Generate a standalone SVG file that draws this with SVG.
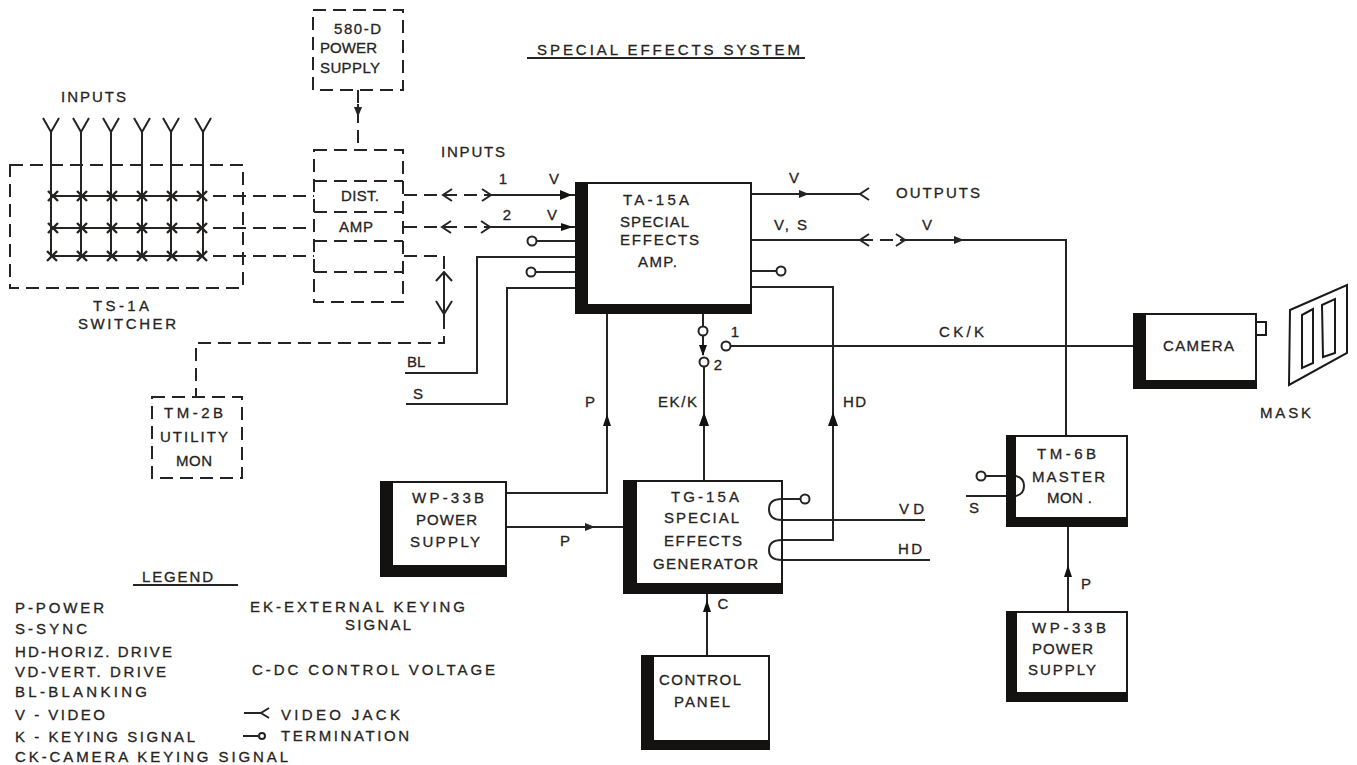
<svg xmlns="http://www.w3.org/2000/svg" width="1357" height="765" viewBox="0 0 1357 765">
<style>
text{font-family:"Liberation Sans",Arial,sans-serif;font-size:15px;fill:#262422;stroke:#262422;stroke-width:.3}
.l{fill:none;stroke:#262422;stroke-width:2}
.d{fill:none;stroke:#262422;stroke-width:2;stroke-dasharray:13 7}
.b{fill:#fff;stroke:#1c1a18;stroke-width:2}
.k{fill:#141210;stroke:none}
.t{fill:#fff;stroke:#262422;stroke-width:2}
.c{text-anchor:middle}
</style>
<defs>
<marker id="a" markerWidth="10" markerHeight="8" refX="9" refY="4" orient="auto" markerUnits="userSpaceOnUse"><path d="M0 0L10 4L0 8Z" fill="#262422"/></marker>
<path id="j" d="M9 -6L0 0L9 6" fill="none" stroke="#262422" stroke-width="2"/>
<path id="x" d="M-5 -5L5 5M-5 5L5 -5" fill="none" stroke="#262422" stroke-width="2.4"/>
</defs>
<rect width="1357" height="765" fill="#fff"/>

<g id="connectors">
<path class="l" d="M51 132V257M81 132V257M111 132V257M142 132V257M171 132V257M203 132V257M51 196H203M51 228H203M51 256H203"/>
<path class="l" d="M43 118L51 132L59 118M73 118L81 132L89 118M103 118L111 132L119 118M134 118L142 132L150 118M163 118L171 132L179 118M195 118L203 132L211 118"/>
<g>
<use href="#x" x="53" y="196"/><use href="#x" x="82" y="196"/><use href="#x" x="112" y="196"/><use href="#x" x="142" y="196"/><use href="#x" x="172" y="196"/><use href="#x" x="202" y="196"/>
<use href="#x" x="53" y="228"/><use href="#x" x="82" y="228"/><use href="#x" x="112" y="228"/><use href="#x" x="142" y="228"/><use href="#x" x="172" y="228"/><use href="#x" x="202" y="228"/>
<use href="#x" x="52" y="256"/><use href="#x" x="82" y="256"/><use href="#x" x="112" y="256"/><use href="#x" x="142" y="256"/><use href="#x" x="172" y="256"/><use href="#x" x="202" y="256"/>
</g>
<path class="d" d="M213 196H314M213 228H314M213 256H314"/>
<path class="d" d="M358 90V150" stroke-dasharray="20 6"/>
<path class="l" d="M358 104V116" marker-end="url(#a)"/>
<path class="d" d="M404 195H492M404 227H490" stroke-dasharray="12 8"/>
<use href="#j" x="443" y="195"/><use href="#j" transform="translate(491 195) rotate(180)"/>
<use href="#j" x="442" y="227"/><use href="#j" transform="translate(490 227) rotate(180)"/>
<path class="l" d="M491 195H576"/><path class="k" d="M560 190L572 195L560 200Z"/>
<path class="l" d="M490 227H576"/><path class="k" d="M561 223L573 227L561 231Z"/>
<path class="d" d="M404 256H444V343H196V397" stroke-dasharray="15 7"/>
<path class="l" d="M436 281L444 272L452 281M436 301L444 314L452 301M444 272V326"/>
<path class="l" d="M537 241H576M536 272H576M405 373H477V257H576M406 404H507V288H576"/>
<circle class="t" cx="532" cy="241" r="4.5"/><circle class="t" cx="531" cy="272" r="4.5"/>
<path class="l" d="M751 194H860M800 194H808" marker-end="url(#a)"/>
<use href="#j" x="860" y="194"/>
<path class="l" d="M751 240H860"/>
<use href="#j" x="860" y="240"/>
<path class="d" d="M860 240H905" stroke-dasharray="11 7"/>
<use href="#j" transform="translate(905 240) rotate(180)"/>
<path class="l" d="M905 240H1066V435"/><path class="l" d="M950 240H963" marker-end="url(#a)"/>
<path class="l" d="M751 271H776"/><circle class="t" cx="781" cy="271" r="4.5"/>
<path class="l" d="M751 287H833V540H782"/><path class="k" d="M828 426L833 412L838 426Z"/>
<path class="l" d="M607 314V493H506"/><path class="k" d="M603 426L607 414L611 426Z"/>
<path class="l" d="M703 314V327M703 336V355"/><path class="k" d="M699 345L703 356L707 345Z"/>
<circle class="t" cx="703" cy="331" r="4.5"/><circle class="t" cx="704" cy="362" r="4.5"/>
<circle class="t" cx="726" cy="346" r="4.5"/>
<path class="l" d="M704 367V480"/><path class="k" d="M699 426L704 412L709 426Z"/>
<path class="l" d="M731 346H1133"/>
<path class="l" d="M1066 346V435"/>
<path class="l" d="M506 527H623"/><path class="l" d="M582 527H594" marker-end="url(#a)"/>
<path class="l" d="M707 655V594"/><path class="k" d="M703 612L707 600L711 612Z"/>
<path class="l" d="M986 476H1007M966 496H1007"/><circle class="t" cx="981" cy="476" r="4.5"/>
<path class="l" d="M1068 611V527"/><path class="k" d="M1064 577L1068 565L1072 577Z"/>
<path class="l" d="M782 520H925M782 560H930M782 499H800"/><circle class="t" cx="805" cy="499" r="4.5"/>
</g>

<g id="ps-580d"><rect class="d" x="313" y="10" width="90" height="80"/>
<text x="334" y="34" textLength="47">580-D</text><text x="320" y="53" textLength="57">POWER</text><text x="320" y="73" textLength="60">SUPPLY</text></g>

<g id="dist-amp"><path class="d" d="M314 150H403V302H314ZM314 181H403M314 212H403M314 241H403M314 272H403"/>
<text x="341" y="201" textLength="38">DIST.</text><text x="339" y="232" textLength="34">AMP</text></g>

<g id="ts-1a"><rect class="d" x="10" y="165" width="233" height="123"/>
<text x="61" y="102" textLength="65">INPUTS</text>
<text x="93" y="311" textLength="56">TS-1A</text><text x="78" y="329" textLength="98">SWITCHER</text></g>

<g id="tm-2b"><rect class="d" x="152" y="397" width="90" height="81"/>
<text x="164" y="418" textLength="59">TM-2B</text><text x="160" y="442" textLength="68">UTILITY</text><text x="176" y="466" textLength="36">MON</text></g>

<g id="ta-15a"><rect class="b" x="576" y="183" width="175" height="130"/><rect class="k" x="575" y="182" width="13" height="132"/><rect class="k" x="575" y="304" width="177" height="10"/>
<text x="623" y="205" textLength="66">TA-15A</text><text x="620" y="227" textLength="69">SPECIAL</text><text x="620" y="245" textLength="79">EFFECTS</text><text x="638" y="267" textLength="39">AMP.</text></g>

<g id="tg-15a"><rect class="b" x="624" y="481" width="158" height="112"/><rect class="k" x="623" y="480" width="14" height="114"/><rect class="k" x="623" y="583" width="160" height="11"/>
<path class="l" d="M782 499Q769 499 769 509Q769 520 782 520M782 540Q769 540 769 550Q769 560 782 560"/>
<text x="671" y="502" textLength="68">TG-15A</text><text x="664" y="523" textLength="75">SPECIAL</text><text x="664" y="546" textLength="78">EFFECTS</text><text x="653" y="569" textLength="105">GENERATOR</text></g>

<g id="wp-33b-left"><rect class="b" x="381" y="482" width="125" height="94"/><rect class="k" x="380" y="481" width="13" height="96"/><rect class="k" x="380" y="565" width="127" height="12"/>
<text x="412" y="503" textLength="72">WP-33B</text><text x="416" y="525" textLength="61">POWER</text><text x="410" y="547" textLength="70">SUPPLY</text></g>

<g id="control-panel"><rect class="b" x="642" y="656" width="127" height="93"/><rect class="k" x="641" y="655" width="13" height="95"/><rect class="k" x="641" y="740" width="129" height="10"/>
<text x="659" y="685" textLength="82">CONTROL</text><text x="674" y="707" textLength="56">PANEL</text></g>

<g id="camera"><rect class="b" x="1134" y="314" width="122" height="74"/><rect class="k" x="1133" y="313" width="13" height="76"/><rect class="k" x="1133" y="380" width="124" height="9"/>
<rect class="b" x="1256" y="322" width="10" height="13"/>
<text x="1163" y="351" textLength="71">CAMERA</text></g>

<g id="mask"><path class="b" d="M1290 310L1347 285V353L1289 385Z"/><path class="b" d="M1302 315L1313 309V363L1302 368ZM1322 305L1335 299V353L1323 357Z" stroke-width="2.5"/>
<text x="1260" y="418" textLength="51">MASK</text></g>

<g id="tm-6b"><rect class="b" x="1007" y="436" width="120" height="90"/><rect class="k" x="1006" y="435" width="10" height="92"/><rect class="k" x="1006" y="517" width="121" height="10"/>
<path class="l" d="M1016 476Q1024 478 1024 486Q1024 494 1016 496"/>
<text x="1037" y="459" textLength="59">TM-6B</text><text x="1032" y="482" textLength="73">MASTER</text><text x="1047" y="503" textLength="45">MON .</text></g>

<g id="wp-33b-right"><rect class="b" x="1007" y="612" width="120" height="89"/><rect class="k" x="1006" y="611" width="11" height="91"/><rect class="k" x="1006" y="692" width="121" height="10"/>
<text x="1032" y="633" textLength="74">WP-33B</text><text x="1032" y="654" textLength="61">POWER</text><text x="1028" y="675" textLength="68">SUPPLY</text></g>

<g id="labels">
<text x="537" y="55" textLength="263">SPECIAL EFFECTS SYSTEM</text>
<path class="l" d="M527 58H805"/>
<text x="441" y="157" textLength="64">INPUTS</text>
<text class="c" x="503" y="184">1</text><text class="c" x="554" y="184">V</text>
<text class="c" x="507" y="220">2</text><text class="c" x="552" y="220">V</text>
<text class="c" x="794" y="183">V</text><text x="774" y="230" textLength="33">V, S</text>
<text x="896" y="198" textLength="84">OUTPUTS</text><text class="c" x="927" y="230">V</text>
<text x="407" y="367">BL</text><text x="413" y="399">S</text>
<text class="c" x="590" y="407">P</text><text x="658" y="407" textLength="39">EK/K</text><text x="843" y="407" textLength="23">HD</text>
<text class="c" x="735" y="337">1</text><text class="c" x="718" y="370">2</text>
<text x="939" y="337" textLength="45">CK/K</text>
<text class="c" x="565" y="546">P</text><text class="c" x="723" y="609">C</text>
<text x="899" y="514" textLength="25">VD</text><text x="898" y="554" textLength="24">HD</text>
<text class="c" x="1086" y="589">P</text><text class="c" x="974" y="513">S</text>
</g>

<g id="legend">
<text x="142" y="582" textLength="71">LEGEND</text><path class="l" d="M133 585H238"/>
<text x="15" y="613" textLength="89">P-POWER</text>
<text x="15" y="634" textLength="72">S-SYNC</text>
<text x="15" y="657" textLength="157">HD-HORIZ. DRIVE</text>
<text x="15" y="677" textLength="151">VD-VERT. DRIVE</text>
<text x="15" y="697" textLength="132">BL-BLANKING</text>
<text x="15" y="720" textLength="90">V - VIDEO</text>
<text x="15" y="742" textLength="180">K - KEYING SIGNAL</text>
<text x="15" y="762" textLength="273">CK-CAMERA KEYING SIGNAL</text>
<text x="250" y="612" textLength="215">EK-EXTERNAL KEYING</text>
<text x="345" y="630" textLength="66">SIGNAL</text>
<text x="252" y="675" textLength="243">C-DC CONTROL VOLTAGE</text>
<text x="281" y="720" textLength="119">VIDEO JACK</text>
<text x="281" y="741" textLength="128">TERMINATION</text>
<path class="l" d="M244 713H262"/><path d="M269 708L261 713L269 718" fill="none" stroke="#262422" stroke-width="2"/>
<path class="l" d="M243 736H258"/><circle class="t" cx="262" cy="736" r="3"/>
</g>
</svg>
